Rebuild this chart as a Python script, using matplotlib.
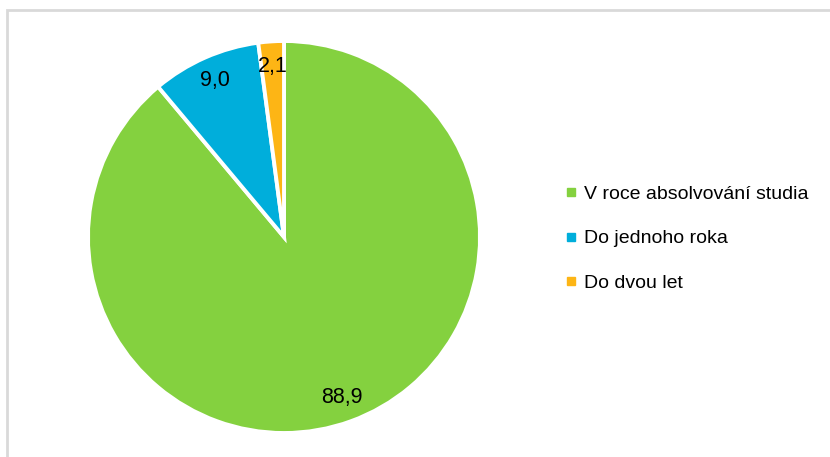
import matplotlib.pyplot as plt
from matplotlib.lines import Line2D
from matplotlib.patches import Rectangle

labels = ['V roce absolvování studia', 'Do jednoho roka', 'Do dvou let']
values = [88.9, 9.0, 2.1]
colors = ['#84D13F', '#00AEDB', '#FDB515']

plt.rcParams['font.family'] = ['Liberation Sans', 'DejaVu Sans']

fig = plt.figure(figsize=(8.3, 4.57), dpi=100)

# light gray frame around the chart area
fig.patches.append(Rectangle((7 / 830, -0.1), 1.2, 1 - 10 / 457 + 0.1,
                             transform=fig.transFigure, fill=False,
                             edgecolor='#D9D9D9', linewidth=2))

ax = fig.add_axes([88 / 830, 24 / 457, 392 / 830, 392 / 457])
wedges, texts = ax.pie(values, colors=colors, startangle=90, counterclock=False,
                       wedgeprops=dict(edgecolor='white', linewidth=2.8),
                       labels=[f'{v:.1f}'.replace('.', ',') for v in values],
                       labeldistance=0.87,
                       textprops=dict(fontsize=15.5, color='black', ha='center', va='center'))
ax.set_xlim(-1, 1)
ax.set_ylim(-1, 1)
ax.set_aspect('equal')

handles = [Line2D([], [], linestyle='none', marker='s', markersize=6,
                  markerfacecolor=c, markeredgecolor=c) for c in colors]
fig.legend(handles, labels, loc='upper left', bbox_to_anchor=(565 / 830, 1 - 185 / 457),
           frameon=False, fontsize=14, handlelength=0.6, handletextpad=0.4,
           labelspacing=1.4, borderaxespad=0, borderpad=0)

fig.savefig('out.png', dpi=100)
